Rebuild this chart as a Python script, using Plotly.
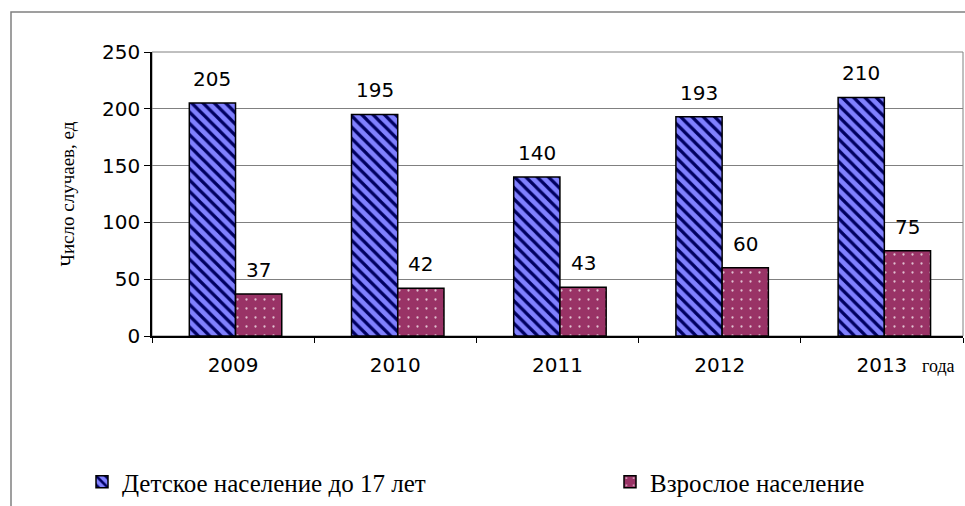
import plotly.graph_objects as go

years = ["2009", "2010", "2011", "2012", "2013"]
children = [205, 195, 140, 193, 210]
adults = [37, 42, 43, 60, 75]
series_names = ["Детское население до 17 лет", "Взрослое население"]
y_title = "Число случаев, ед"
x_suffix = "года"

W, H = 965, 506
ML, MR, MT, MB = 152, 2, 52, 170
PW, PH = W - ML - MR, H - MT - MB

BAR_W = 0.285
OFF_C = -0.27
OFF_A = OFF_C + BAR_W

NUM_FONT = "DejaVu Sans, Arial"
TXT_FONT = "Liberation Serif, Times New Roman"

fig = go.Figure()
fig.add_trace(go.Bar(
    x=years, y=children, name=series_names[0], legend="legend",
    width=BAR_W, offset=OFF_C,
    marker=dict(color="#8080FF",
                line=dict(color="black", width=1.5),
                pattern=dict(shape="\\", fgcolor="#000060", bgcolor="#8080FF",
                             size=8, solidity=0.4, fillmode="replace")),
))
fig.add_trace(go.Bar(
    x=years, y=adults, name=series_names[1], legend="legend2",
    width=BAR_W, offset=OFF_A,
    marker=dict(color="#993366",
                line=dict(color="black", width=1.5),
                pattern=dict(shape=".", fgcolor="#E0C0D0", bgcolor="#993366",
                             size=9, solidity=0.05, fillmode="replace")),
))

annotations = []
for i, (c, a) in enumerate(zip(children, adults)):
    annotations.append(dict(x=i + OFF_C + BAR_W / 2, y=c, xref="x", yref="y",
                            text=str(c), showarrow=False, yanchor="middle", yshift=24,
                            font=dict(family=NUM_FONT, size=20, color="black")))
    annotations.append(dict(x=i + OFF_A + BAR_W / 2, y=a, xref="x", yref="y",
                            text=str(a), showarrow=False, yanchor="middle", yshift=24,
                            font=dict(family=NUM_FONT, size=20, color="black")))
annotations.append(dict(x=(938 - ML) / PW, y=-(366 - 336) / PH, xref="paper", yref="paper",
                        text=x_suffix, showarrow=False, xanchor="center", yanchor="middle",
                        font=dict(family=TXT_FONT, size=18, color="black")))

shapes = [
    dict(type="rect", xref="paper", yref="paper", x0=0, y0=0, x1=1, y1=1,
         line=dict(color="#808080", width=1), layer="below"),
    dict(type="rect", xref="paper", yref="paper",
         x0=(11 - ML) / PW, y0=-1.0, x1=1.2, y1=1 + (MT - 12) / PH,
         line=dict(color="#808080", width=1.5), fillcolor="rgba(0,0,0,0)"),
]

legend_common = dict(orientation="h", y=-(482 - 336) / PH, xanchor="left", yanchor="middle",
                     font=dict(family=TXT_FONT, size=25, color="black"),
                     itemwidth=30, bgcolor="rgba(0,0,0,0)")

fig.update_layout(
    width=W, height=H,
    margin=dict(l=ML, r=MR, t=MT, b=MB, autoexpand=False),
    paper_bgcolor="white", plot_bgcolor="white",
    barmode="overlay",
    showlegend=True,
    legend=dict(x=(82 - ML) / PW, **legend_common),
    legend2=dict(x=(610 - ML) / PW, **legend_common),
    annotations=annotations,
    shapes=shapes,
    xaxis=dict(type="category", tickson="boundaries", ticks="outside", ticklen=5,
               tickcolor="black", showline=True, linecolor="black", linewidth=1.5,
               showgrid=False, range=[-0.5, 4.5], ticklabelstandoff=10,
               tickfont=dict(family=NUM_FONT, size=20, color="black")),
    yaxis=dict(range=[0, 250], dtick=50, ticks="outside", ticklen=6, tickcolor="black",
               showline=True, linecolor="black", linewidth=1.5,
               showgrid=True, gridcolor="#808080", gridwidth=1, zeroline=False,
               tickfont=dict(family=NUM_FONT, size=20, color="black"),
               title=dict(text=y_title, standoff=22,
                          font=dict(family=TXT_FONT, size=19, color="black"))),
)

fig.write_html("out.html", config={"displayModeBar": False},
               post_script="document.body.style.margin='0';")
